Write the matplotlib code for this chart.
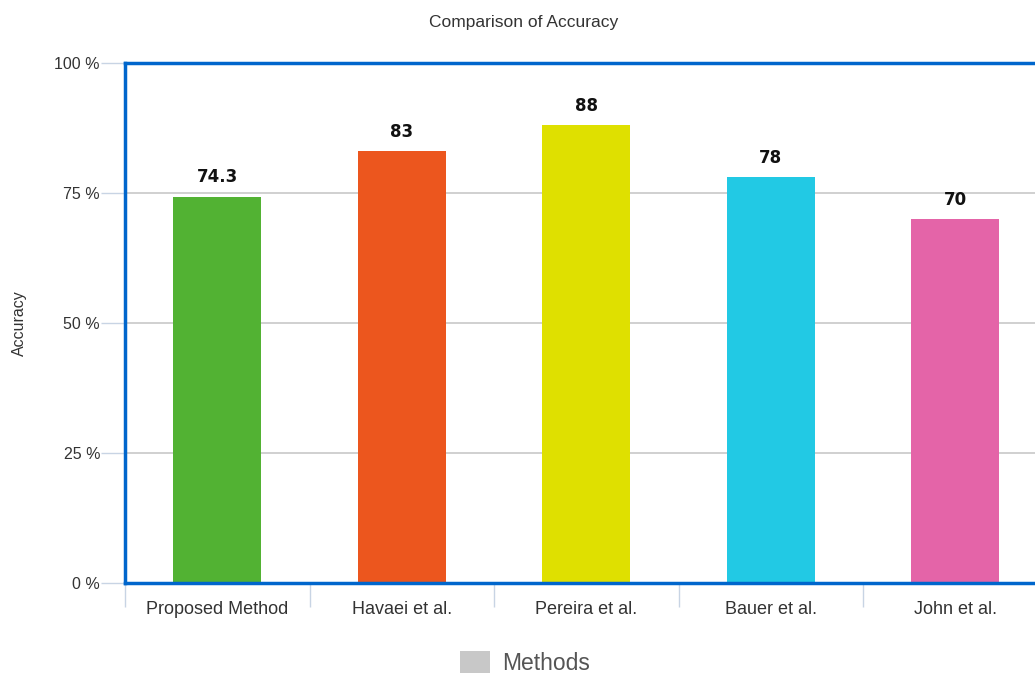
import matplotlib.pyplot as plt
from matplotlib.patches import Patch

# accuracy of each method (percent)
methods = ["Proposed Method", "Havaei et al.", "Pereira et al.", "Bauer et al.", "John et al."]
accuracy = [74.3, 83, 88, 78, 70]
bar_colors = ["#52b233", "#ec561e", "#dfe000", "#22c9e4", "#e464a8"]
yticks = [0, 25, 50, 75, 100]
ytick_labels = ["0 %", "25 %", "50 %", "75 %", "100 %"]

plt.rcParams['font.family'] = ['Liberation Sans', 'DejaVu Sans']

fig = plt.figure(figsize=(10.35, 6.73), dpi=100)
# plot area runs past the right edge of the figure
ax = fig.add_axes([125 / 1035, 90 / 673, 922.5 / 1035, 520 / 673])

x = range(len(methods))
bars = ax.bar(x, accuracy, width=0.477, color=bar_colors, zorder=3)

for xi, v in zip(x, accuracy):
    ax.text(xi, v + 2.0, f"{v:g}", ha='center', va='bottom', fontsize=12,
            fontweight='bold', color='#111111', family='DejaVu Sans')

ax.set_xlim(-0.5, len(methods) - 0.5)
ax.set_ylim(0, 100)

ax.set_yticks(yticks)
ax.set_yticklabels(ytick_labels, fontsize=11.5, color='#333333')
ax.tick_params(axis='y', length=17, width=1, color='#c8d4e4', pad=1)
ax.yaxis.grid(True, color='#c8c8c8', linewidth=1.2, zorder=0)

ax.set_xticks(list(x))
ax.set_xticklabels(methods, fontsize=13, color='#333333')
ax.set_xticks([i - 0.5 for i in range(len(methods) + 1)], minor=True)
ax.tick_params(axis='x', which='major', length=0, pad=13)
ax.tick_params(axis='x', which='minor', length=17, width=1, color='#c8d4e4')

for side in ['left', 'top', 'bottom', 'right']:
    ax.spines[side].set_color('#0066cc')
    ax.spines[side].set_linewidth(2.5)
    ax.spines[side].set_zorder(4)

ax.set_ylabel("Accuracy", fontsize=11.5, color='#333333')
ax.yaxis.set_label_coords((27 - 125) / 922.5, 0.5)
ax.set_title("Comparison of Accuracy", fontsize=12.5, color='#333333', pad=26,
             x=(524 - 125) / 922.5)

fig.legend(handles=[Patch(facecolor='#c8c8c8', edgecolor='none', label='Methods')],
           loc='center', bbox_to_anchor=(525 / 1035, 1 - 663 / 673), frameon=False,
           fontsize=16.5, handlelength=1.3, handleheight=1.1, labelcolor='#555555',
           handletextpad=0.5)

fig.savefig("out.png", dpi=100)
